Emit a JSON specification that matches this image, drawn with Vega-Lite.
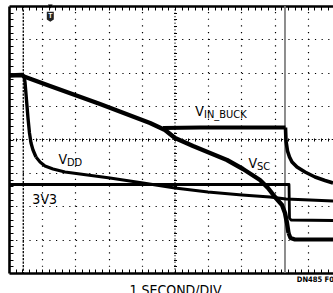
{
  "$schema": "https://vega.github.io/schema/vega-lite/v6.json",
  "width": 324,
  "height": 267,
  "autosize": {"type": "none"},
  "padding": {"left": 9, "top": 6, "right": 0, "bottom": 20},
  "background": "white",
  "config": {
    "view": {"stroke": null},
    "axis": {"labels": false, "domain": false, "ticks": false, "grid": false, "tickColor": "#000", "tickWidth": 1, "domainColor": "#000"}
  },
  "datasets": {
    "centerX": [{"t": 5}],
    "centerY": [{"v": 4}],
    "trigger": [{"t": 0.43}],
    "cursor": [{"t": 8.313}],
    "traces": [
      {"seg": "VSC", "t": 0.000, "v": 5.918},
      {"seg": "VSC", "t": 0.392, "v": 5.933},
      {"seg": "VSC", "t": 0.452, "v": 5.888},
      {"seg": "VSC", "t": 1.235, "v": 5.603},
      {"seg": "VSC", "t": 2.741, "v": 5.064},
      {"seg": "VSC", "t": 4.247, "v": 4.494},
      {"seg": "VSC", "t": 4.699, "v": 4.285},
      {"seg": "VSC", "t": 5.000, "v": 4.045},
      {"seg": "VSC", "t": 5.542, "v": 3.805},
      {"seg": "VSC", "t": 6.054, "v": 3.596},
      {"seg": "VSC", "t": 6.566, "v": 3.386},
      {"seg": "VSC", "t": 7.048, "v": 3.116},
      {"seg": "VSC", "t": 7.560, "v": 2.787},
      {"seg": "VSC", "t": 7.801, "v": 2.547},
      {"seg": "VSC", "t": 8.012, "v": 2.277},
      {"seg": "VSC", "t": 8.223, "v": 2.037},
      {"seg": "VSC", "t": 8.313, "v": 1.798},
      {"seg": "VSC", "t": 8.373, "v": 1.498},
      {"seg": "VSC", "t": 8.419, "v": 1.199},
      {"seg": "VSC low", "t": 8.419, "v": 1.199},
      {"seg": "VSC low", "t": 8.479, "v": 1.049},
      {"seg": "VSC low", "t": 8.614, "v": 1.004},
      {"seg": "VSC low", "t": 9.759, "v": 1.004},
      {"seg": "VIN_BUCK", "t": 4.639, "v": 4.345},
      {"seg": "VIN_BUCK", "t": 5.753, "v": 4.360},
      {"seg": "VIN_BUCK", "t": 7.259, "v": 4.360},
      {"seg": "VIN_BUCK", "t": 8.328, "v": 4.360},
      {"seg": "VIN_BUCK after", "t": 8.328, "v": 4.360},
      {"seg": "VIN_BUCK after", "t": 8.343, "v": 3.955},
      {"seg": "VIN_BUCK after", "t": 8.389, "v": 3.655},
      {"seg": "VIN_BUCK after", "t": 8.449, "v": 3.476},
      {"seg": "VIN_BUCK after", "t": 8.524, "v": 3.326},
      {"seg": "VIN_BUCK after", "t": 8.675, "v": 3.176},
      {"seg": "VIN_BUCK after", "t": 8.916, "v": 3.026},
      {"seg": "VIN_BUCK after", "t": 9.217, "v": 2.876},
      {"seg": "VIN_BUCK after", "t": 9.518, "v": 2.772},
      {"seg": "VIN_BUCK after", "t": 9.759, "v": 2.697},
      {"seg": "VDD fall", "t": 0.452, "v": 5.903},
      {"seg": "VDD fall", "t": 0.482, "v": 5.723},
      {"seg": "VDD fall", "t": 0.527, "v": 5.184},
      {"seg": "VDD fall", "t": 0.572, "v": 4.644},
      {"seg": "VDD fall", "t": 0.617, "v": 4.195},
      {"seg": "VDD fall", "t": 0.663, "v": 3.895},
      {"seg": "VDD fall", "t": 0.723, "v": 3.685},
      {"seg": "VDD fall", "t": 0.813, "v": 3.476},
      {"seg": "VDD", "t": 0.813, "v": 3.476},
      {"seg": "VDD", "t": 0.934, "v": 3.326},
      {"seg": "VDD", "t": 1.084, "v": 3.206},
      {"seg": "VDD", "t": 1.325, "v": 3.116},
      {"seg": "VDD", "t": 1.687, "v": 3.026},
      {"seg": "VDD", "t": 2.139, "v": 2.966},
      {"seg": "VDD", "t": 3.042, "v": 2.846},
      {"seg": "VDD", "t": 4.036, "v": 2.697},
      {"seg": "VDD", "t": 5.000, "v": 2.547},
      {"seg": "VDD", "t": 5.994, "v": 2.427},
      {"seg": "VDD", "t": 7.018, "v": 2.337},
      {"seg": "VDD", "t": 7.861, "v": 2.277},
      {"seg": "VDD", "t": 8.343, "v": 2.217},
      {"seg": "VDD", "t": 9.066, "v": 2.187},
      {"seg": "VDD", "t": 9.759, "v": 2.157},
      {"seg": "3V3", "t": 0.000, "v": 2.652},
      {"seg": "3V3", "t": 8.434, "v": 2.652},
      {"seg": "3V3", "t": 8.449, "v": 1.648},
      {"seg": "3V3", "t": 8.494, "v": 1.588},
      {"seg": "3V3", "t": 9.759, "v": 1.573}
    ],
    "labels": [
      {"main": "V", "sub": "IN_BUCK", "t": 5.873, "v": 4.704},
      {"main": "V", "sub": "DD", "t": 1.747, "v": 3.266},
      {"main": "V", "sub": "SC", "t": 7.470, "v": 3.146},
      {"main": "3V3", "sub": "", "t": 1.446, "v": 2.067}
    ],
    "note": [{"text": "DN485 F01", "t": 8.67, "v": -0.27}],
    "marker": [{"name": "T", "t": 1.244, "v": 7.679}],
    "markerTop": [{"t": 1.244, "v": 7.985}]
  },
  "layer": [
    {
      "data": {"name": "centerX"},
      "mark": {"type": "rule", "color": "#000", "strokeWidth": 1, "strokeDash": [1.3, 2.02]},
      "encoding": {
        "x": {
          "field": "t", "type": "quantitative",
          "scale": {"domain": [0, 9.759], "nice": false, "zero": false},
          "axis": {
            "orient": "bottom", "values": [1, 2, 3, 4, 6, 7, 8, 9],
            "grid": true, "gridColor": "#000", "gridOpacity": 1, "gridWidth": 1.2, "gridDash": [1.2, 5.475],
            "domain": true, "domainWidth": 2.6, "domainColor": "#000",
            "title": "1 SECOND/DIV", "titleFont": "Liberation Sans Narrow, DejaVu Sans Condensed, sans-serif",
            "titleFontSize": 14, "titleFontWeight": "normal", "titleColor": "#000",
            "titleBaseline": "alphabetic", "titleY": 21, "titleX": 166, "titleAnchor": null
          }
        }
      }
    },
    {
      "data": {"name": "centerY"},
      "mark": {"type": "rule", "color": "#000", "strokeWidth": 1, "strokeDash": [1.3, 2.02]},
      "encoding": {
        "y": {
          "field": "v", "type": "quantitative",
          "scale": {"domain": [0, 8], "nice": false, "zero": false},
          "axis": {
            "orient": "left", "values": [1, 2, 3, 5, 6, 7],
            "grid": true, "gridColor": "#000", "gridOpacity": 1, "gridWidth": 1.2, "gridDash": [1.2, 5.44],
            "domain": true, "domainWidth": 2.6, "domainColor": "#000", "title": null
          }
        }
      }
    },
    {
      "data": {"name": "trigger"},
      "mark": {"type": "rule", "color": "#000", "strokeWidth": 1.3, "strokeDash": [2.2, 1.3]},
      "encoding": {
        "x": {
          "field": "t", "type": "quantitative",
          "scale": {"domain": [0, 9.759], "nice": false, "zero": false},
          "axis": {
            "orient": "bottom", "ticks": true, "tickSize": -4, "title": null,
            "values": [0.2,0.4,0.6,0.8,1,1.2,1.4,1.6,1.8,2,2.2,2.4,2.6,2.8,3,3.2,3.4,3.6,3.8,4,4.2,4.4,4.6,4.8,5,5.2,5.4,5.6,5.8,6,6.2,6.4,6.6,6.8,7,7.2,7.4,7.6,7.8,8,8.2,8.4,8.6,8.8,9,9.2,9.4,9.6]
          }
        }
      }
    },
    {
      "data": {"name": "cursor"},
      "mark": {"type": "rule", "color": "#7a7a7a", "strokeWidth": 1.7},
      "encoding": {
        "x": {
          "field": "t", "type": "quantitative",
          "scale": {"domain": [0, 9.759], "nice": false, "zero": false},
          "axis": {
            "orient": "top", "ticks": true, "tickSize": -4, "title": null,
            "domain": true, "domainWidth": 2.6, "domainColor": "#000",
            "values": [0.2,0.4,0.6,0.8,1,1.2,1.4,1.6,1.8,2,2.2,2.4,2.6,2.8,3,3.2,3.4,3.6,3.8,4,4.2,4.4,4.6,4.8,5,5.2,5.4,5.6,5.8,6,6.2,6.4,6.6,6.8,7,7.2,7.4,7.6,7.8,8,8.2,8.4,8.6,8.8,9,9.2,9.4,9.6]
          }
        }
      }
    },
    {
      "data": {"name": "traces"},
      "mark": {"type": "line", "color": "#000", "strokeCap": "butt", "strokeJoin": "round"},
      "encoding": {
        "x": {
          "field": "t", "type": "quantitative",
          "scale": {"domain": [0, 9.759], "nice": false, "zero": false},
          "axis": {
            "orient": "bottom", "offset": -135, "ticks": true, "tickSize": 3, "title": null,
            "values": [0.2,0.4,0.6,0.8,1,1.2,1.4,1.6,1.8,2,2.2,2.4,2.6,2.8,3,3.2,3.4,3.6,3.8,4,4.2,4.4,4.6,4.8,5,5.2,5.4,5.6,5.8,6,6.2,6.4,6.6,6.8,7,7.2,7.4,7.6,7.8,8,8.2,8.4,8.6,8.8,9,9.2,9.4,9.6]
          }
        },
        "y": {
          "field": "v", "type": "quantitative",
          "scale": {"domain": [0, 8], "nice": false, "zero": false},
          "axis": {
            "orient": "left", "ticks": true, "tickSize": -4, "title": null,
            "values": [0.2,0.4,0.6,0.8,1,1.2,1.4,1.6,1.8,2,2.2,2.4,2.6,2.8,3,3.2,3.4,3.6,3.8,4,4.2,4.4,4.6,4.8,5,5.2,5.4,5.6,5.8,6,6.2,6.4,6.6,6.8,7,7.2,7.4,7.6,7.8]
          }
        },
        "detail": {"field": "seg", "type": "nominal"},
        "strokeWidth": {
          "field": "seg", "type": "nominal", "legend": null,
          "scale": {
            "domain": ["VSC", "VSC low", "VIN_BUCK", "VIN_BUCK after", "VDD fall", "VDD", "3V3"],
            "range": [4.4, 2.8, 3, 6.5, 1.3, 3.5, 2.6]
          }
        }
      }
    },
    {
      "data": {"name": "labels"},
      "mark": {"type": "text", "align": "right", "baseline": "alphabetic", "font": "Liberation Sans Narrow, DejaVu Sans Condensed, sans-serif", "fontSize": 14, "color": "#000"},
      "encoding": {
        "x": {"field": "t", "type": "quantitative", "scale": {"domain": [0, 9.759], "nice": false, "zero": false}, "axis": null},
        "y": {
          "field": "v", "type": "quantitative",
          "scale": {"domain": [0, 8], "nice": false, "zero": false},
          "axis": {
            "orient": "left", "offset": -167.5, "ticks": true, "tickSize": 3, "title": null,
            "values": [0.2,0.4,0.6,0.8,1,1.2,1.4,1.6,1.8,2,2.2,2.4,2.6,2.8,3,3.2,3.4,3.6,3.8,4,4.2,4.4,4.6,4.8,5,5.2,5.4,5.6,5.8,6,6.2,6.4,6.6,6.8,7,7.2,7.4,7.6,7.8]
          }
        },
        "text": {"field": "main", "type": "nominal"}
      }
    },
    {
      "data": {"name": "labels"},
      "mark": {"type": "text", "align": "left", "baseline": "alphabetic", "dy": 2, "font": "Liberation Sans Narrow, DejaVu Sans Condensed, sans-serif", "fontSize": 11, "color": "#000"},
      "encoding": {
        "x": {"field": "t", "type": "quantitative", "scale": {"domain": [0, 9.759], "nice": false, "zero": false}, "axis": null},
        "y": {"field": "v", "type": "quantitative", "scale": {"domain": [0, 8], "nice": false, "zero": false}, "axis": null},
        "text": {"field": "sub", "type": "nominal"}
      }
    },
    {
      "data": {"name": "note"},
      "mark": {"type": "text", "align": "left", "baseline": "alphabetic", "font": "Liberation Sans Narrow, DejaVu Sans Condensed, sans-serif", "fontSize": 7.5, "fontWeight": "bold", "color": "#000"},
      "encoding": {
        "x": {"field": "t", "type": "quantitative", "scale": {"domain": [0, 9.759], "nice": false, "zero": false}, "axis": null},
        "y": {"field": "v", "type": "quantitative", "scale": {"domain": [0, 8], "nice": false, "zero": false}, "axis": null},
        "text": {"field": "text", "type": "nominal"}
      }
    },
    {
      "data": {"name": "marker"},
      "mark": {"type": "point", "filled": true, "color": "#222", "opacity": 1, "size": 100, "shape": "M-0.7,-1L0.7,-1L0.7,0.55L0,1L-0.7,0.55Z"},
      "encoding": {
        "x": {"field": "t", "type": "quantitative", "scale": {"domain": [0, 9.759], "nice": false, "zero": false}, "axis": null},
        "y": {"field": "v", "type": "quantitative", "scale": {"domain": [0, 8], "nice": false, "zero": false}, "axis": null}
      }
    },
    {
      "data": {"name": "marker"},
      "mark": {"type": "text", "align": "center", "baseline": "middle", "dy": -1, "font": "Liberation Sans, sans-serif", "fontSize": 7, "fontWeight": "bold", "color": "#fff"},
      "encoding": {
        "x": {"field": "t", "type": "quantitative", "scale": {"domain": [0, 9.759], "nice": false, "zero": false}, "axis": null},
        "y": {"field": "v", "type": "quantitative", "scale": {"domain": [0, 8], "nice": false, "zero": false}, "axis": null},
        "text": {"field": "name", "type": "nominal"}
      }
    },
    {
      "data": {"name": "markerTop"},
      "mark": {"type": "point", "filled": true, "color": "#000", "opacity": 1, "size": 22, "shape": "triangle-down"},
      "encoding": {
        "x": {"field": "t", "type": "quantitative", "scale": {"domain": [0, 9.759], "nice": false, "zero": false}, "axis": null},
        "y": {"field": "v", "type": "quantitative", "scale": {"domain": [0, 8], "nice": false, "zero": false}, "axis": null}
      }
    }
  ],
  "resolve": {"axis": {"x": "independent", "y": "independent"}}
}
